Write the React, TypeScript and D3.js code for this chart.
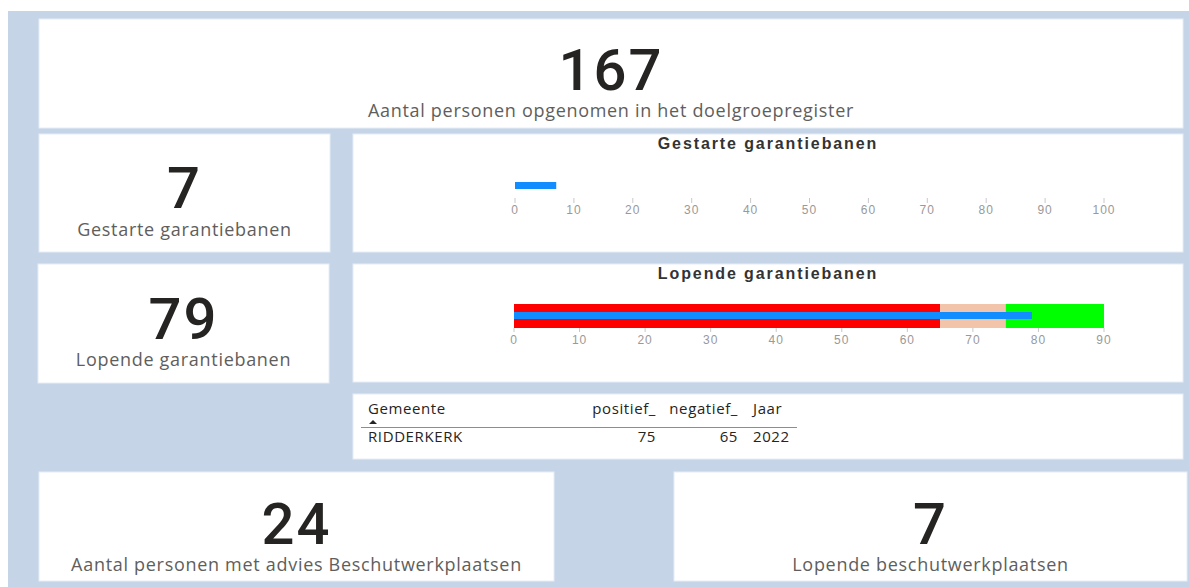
import { scaleLinear } from "d3";

const W = 1189;
const H = 587;

// KPI cards
const kpiValues = [167, 7, 79, 24, 7];
const kpiLabels = [
  "Aantal personen opgenomen in het doelgroepregister",
  "Gestarte garantiebanen",
  "Lopende garantiebanen",
  "Aantal personen met advies Beschutwerkplaatsen",
  "Lopende beschutwerkplaatsen",
];

// bullet charts
const gestarteValue = 7;
const gestarteTicks = [0, 10, 20, 30, 40, 50, 60, 70, 80, 90, 100];
const lopendeValue = 79;
const lopendeRanges = [65, 75, 90];
const rangeColors = ["#ff0000", "#f2c4aa", "#00ff00"];
const lopendeTicks = [0, 10, 20, 30, 40, 50, 60, 70, 80, 90];

// table
const tableColumns = ["Gemeente", "positief_", "negatief_", "Jaar"];
const gemeenten = ["RIDDERKERK"];
const positief = [75];
const negatief = [65];
const jaren = [2022];

const BG = "#c5d4e6";
const NUM = "#252423";
const LABEL = "#605e5c";
const BLUE = "#118dff";
const NUM_FONT = "Roboto, 'Noto Sans', sans-serif";
const LABEL_FONT = "'Open Sans', 'Noto Sans', sans-serif";
const CHART_FONT = "'Liberation Sans', Arial, sans-serif";

// card boxes: x, y, w, h, number baseline, label baseline
const kpiBoxes = [
  { x: 39, y: 19, w: 1144, h: 109, nb: 90, lb: 117 },
  { x: 39, y: 134, w: 291, h: 118, nb: 208, lb: 236 },
  { x: 38, y: 264, w: 291, h: 119, nb: 339, lb: 366 },
  { x: 39, y: 472, w: 515, h: 109, nb: 544, lb: 571 },
  { x: 674, y: 472, w: 513, h: 109, nb: 544, lb: 571 },
];

function Card({ x, y, w, h }: { x: number; y: number; w: number; h: number }) {
  return <rect x={x} y={y} width={w} height={h} fill="#ffffff" stroke="#e6edf5" strokeWidth={1} />;
}

function Kpi({ i }: { i: number }) {
  const b = kpiBoxes[i];
  const cx = b.x + b.w / 2;
  return (
    <g>
      <Card x={b.x} y={b.y} w={b.w} h={b.h} />
      <text x={cx} y={b.nb} textAnchor="middle" fontFamily={NUM_FONT} fontWeight={500} fontSize={58} fill={NUM} letterSpacing={2}>
        {kpiValues[i]}
      </text>
      <text x={cx} y={b.lb} textAnchor="middle" fontFamily={LABEL_FONT} fontSize={18} fill={LABEL} letterSpacing={0.7}>
        {kpiLabels[i]}
      </text>
    </g>
  );
}

function BulletTitle({ y, children }: { y: number; children: string }) {
  return (
    <text x={768} y={y} textAnchor="middle" fontFamily={CHART_FONT} fontWeight={700} fontSize={16} fill="#333" letterSpacing={1.9}>
      {children}
    </text>
  );
}

function GestarteBullet() {
  const x = scaleLinear().domain([0, 100]).range([515, 1104]);
  return (
    <g>
      <Card x={353} y={134} w={830} h={118} />
      <BulletTitle y={149}>Gestarte garantiebanen</BulletTitle>
      <rect x={x(0)} y={182} width={x(gestarteValue) - x(0)} height={7} fill={BLUE} />
      {gestarteTicks.map((t) => (
        <g key={t}>
          <line x1={x(t)} x2={x(t)} y1={198} y2={203} stroke="#c8c8c8" />
          <text x={x(t)} y={214} textAnchor="middle" fontFamily={CHART_FONT} fontSize={12} fill="#999" letterSpacing={1}>
            {t}
          </text>
        </g>
      ))}
    </g>
  );
}

function LopendeBullet() {
  const x = scaleLinear().domain([0, 90]).range([514, 1104]);
  const starts = [0, ...lopendeRanges.slice(0, -1)];
  return (
    <g>
      <Card x={353} y={264} w={830} h={118} />
      <BulletTitle y={279}>Lopende garantiebanen</BulletTitle>
      {lopendeRanges.map((r, i) => (
        <rect key={r} x={x(starts[i])} y={304} width={x(r) - x(starts[i])} height={24} fill={rangeColors[i]} />
      ))}
      <rect x={x(0)} y={312} width={x(lopendeValue) - x(0)} height={7} fill={BLUE} />
      {lopendeTicks.map((t) => (
        <g key={t}>
          <line x1={x(t)} x2={x(t)} y1={328} y2={332} stroke="#c8c8c8" />
          <text x={x(t)} y={344} textAnchor="middle" fontFamily={CHART_FONT} fontSize={12} fill="#999" letterSpacing={1}>
            {t}
          </text>
        </g>
      ))}
    </g>
  );
}

function Table() {
  // column anchors: left, right, right, left
  const colX = [368, 656, 738, 753];
  const anchors = ["start", "end", "end", "start"] as const;
  return (
    <g fontFamily={LABEL_FONT} fontSize={15} fill={NUM} letterSpacing={0.6}>
      <Card x={353} y={394} w={830} h={65} />
      {tableColumns.map((c, i) => (
        <text key={c} x={colX[i]} y={414} textAnchor={anchors[i]}>
          {c}
        </text>
      ))}
      <path d="M369,424 L373,420 L377,424 Z" fill={NUM} />
      <line x1={361} x2={797} y1={427.5} y2={427.5} stroke="#4a9fe0" strokeWidth={1} />
      {gemeenten.map((g, r) => {
        const y = 442 + r * 20;
        const cells = [g, positief[r], negatief[r], jaren[r]];
        return cells.map((v, i) => (
          <text key={`${r}-${i}`} x={colX[i]} y={y} textAnchor={anchors[i]}>
            {v}
          </text>
        ));
      })}
    </g>
  );
}

export default function App() {
  return (
    <svg width={W} height={H} style={{ position: "absolute", left: 0, top: 0 }} viewBox={`0 0 ${W} ${H}`}>
      <rect x={0} y={0} width={W} height={H} fill="#ffffff" />
      <rect x={8} y={11} width={W - 8} height={H - 11} fill={BG} />
      {kpiValues.map((_, i) => (
        <Kpi key={i} i={i} />
      ))}
      <GestarteBullet />
      <LopendeBullet />
      <Table />
    </svg>
  );
}
